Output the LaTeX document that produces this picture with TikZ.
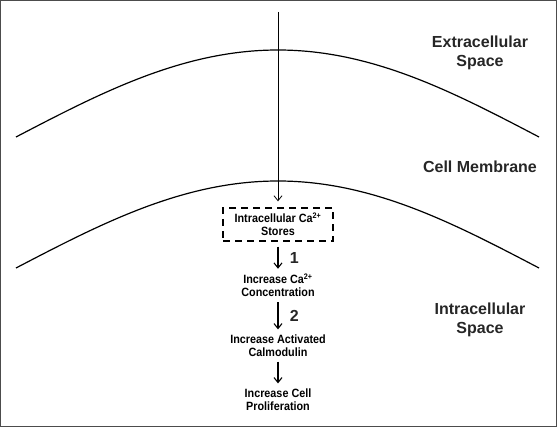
\documentclass[tikz,border=0pt]{standalone}
\usepackage{fontspec}
\setmainfont{Liberation Sans}
\newfontfamily\narrowfont[FakeStretch=0.9]{Liberation Sans}
\usetikzlibrary{arrows.meta}

\begin{document}
\begin{tikzpicture}[x=1pt, y=-1pt,
	every node/.style={text=black!85, align=center},
	region/.style={font=\fontsize{16}{19}\selectfont\bfseries},
	stepnode/.style={font=\narrowfont\fontsize{12}{13}\selectfont\bfseries, text=black, inner sep=0pt},
	flow/.style={-{Straight Barb[length=5pt,width=8pt]}, line width=1.1pt}]

% Frame of the picture
\useasboundingbox (0,0) rectangle (557,427);
\draw[line width=1.2pt, black!70] (0.6,0.6) rectangle (556.4,426.4);

% Membrane, outer and inner edge
\draw[line width=1.2pt] (16,137) sin (278,50) cos (539,137);
\draw[line width=1.2pt] (16,268) sin (278,181) cos (539,268);

% Region labels
\node[region] (extra) at (480,52.5) {Extracellular\\Space};
\node[region] (membr) at (480,167) {Cell Membrane};
\node[region] (intra) at (480,319.5) {Intracellular\\Space};

% Chain of steps
\node[stepnode, draw, dash pattern=on 7pt off 5pt, line width=1.3pt,
	minimum width=110pt, minimum height=33pt] (stores) at (278,224.5)
	{Intracellular Ca\textsuperscript{2+}\\Stores};
\node[stepnode] (conc) at (278,285.5) {Increase Ca\textsuperscript{2+}\\Concentration};
\node[stepnode] (calm) at (278,345.5) {Increase Activated\\Calmodulin};
\node[stepnode] (prolif) at (278,399.5) {Increase Cell\\Proliferation};

% Signal coming in from outside
\coordinate (entry) at (278,12);
\draw[flow, line width=0.8pt, shorten >=6pt] (entry) -- (stores.north);

% Arrows between the steps
\foreach \a/\b/\lab in {stores/conc/1, conc/calm/2, calm/prolif/{}} {
	\draw[flow, shorten <=5pt, shorten >=5pt] (\a.south) -- node[region, right=8pt] {\lab} (\b.north);
}

\end{tikzpicture}
\end{document}
